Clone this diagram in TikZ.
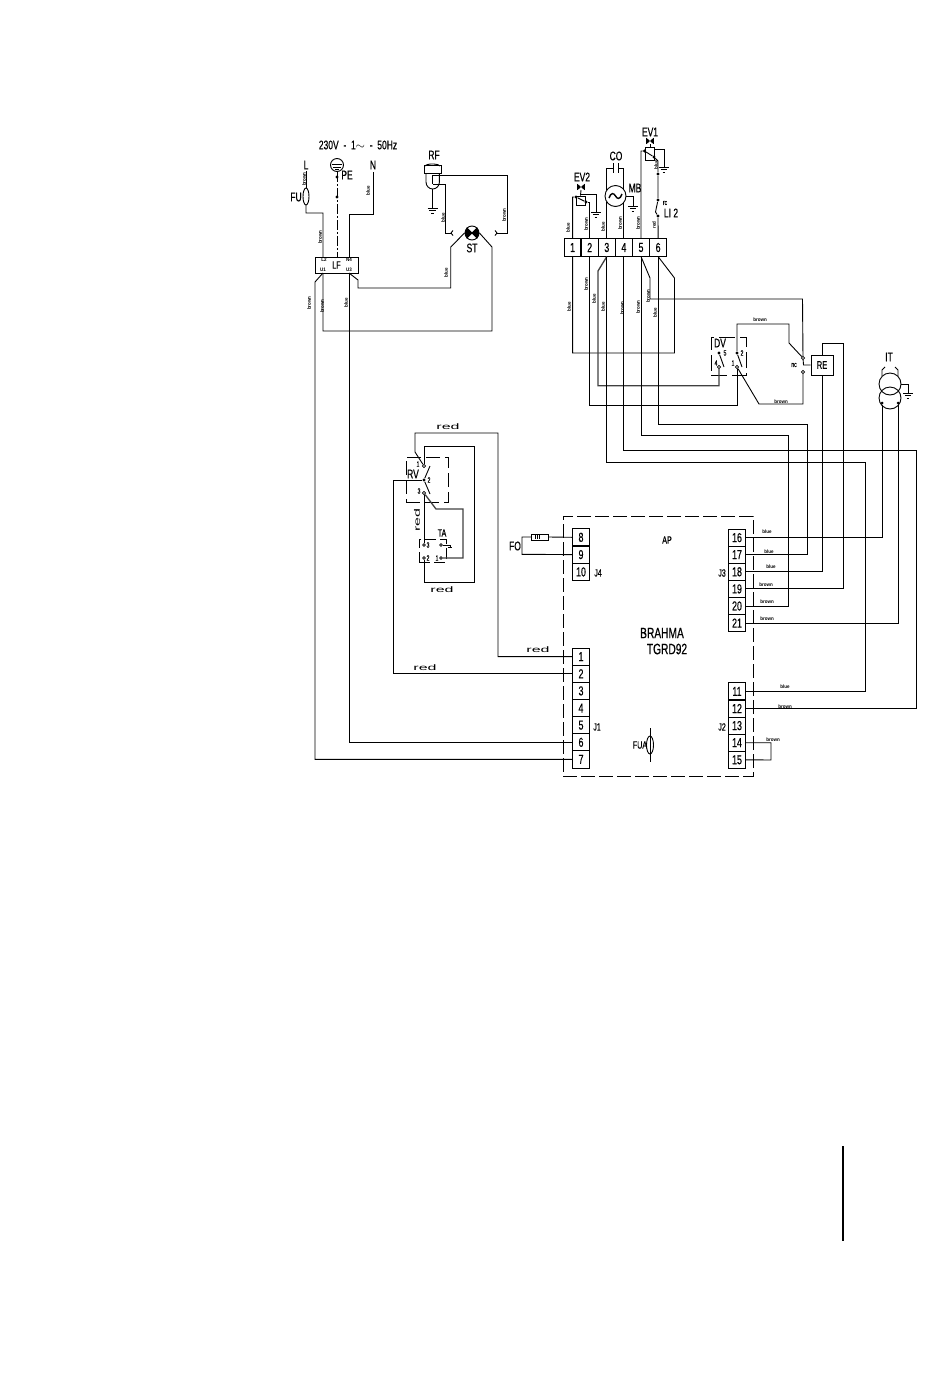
\documentclass[tikz,border=0pt]{standalone}
\usepackage{fontspec}
\setmainfont[FakeStretch=0.68,FakeBold=0.5]{Liberation Sans}
\newfontfamily\tagfont[FakeStretch=0.9]{Liberation Sans Bold}
\newfontfamily\widefont[FakeStretch=2.0]{Liberation Sans}
\usepackage{tikz}
\tikzset{
 wire/.style={line width=0.9pt},
 wireb/.style={line width=1.3pt,black!75},
 term/.style={draw,line width=0.9pt,minimum width=16.5,minimum height=17.2,inner sep=0,font=\fontsize{13}{13}\selectfont},
 tag/.style={inner sep=0,font=\tagfont\fontsize{5}{5}\selectfont},
 vtag/.style={tag,rotate=90},
 redtag/.style={inner sep=0,font=\widefont\fontsize{8}{8}\selectfont},
 lab/.style={inner sep=0,font=\fontsize{12.5}{13}\selectfont},
 sublab/.style={lab,font=\fontsize{10.5}{11}\selectfont},
 pin/.style={inner sep=0,font=\fontsize{7.5}{8}\selectfont},
 lfpin/.style={inner sep=0,font=\tagfont\fontsize{5}{5}\selectfont},
 dot/.style={circle,fill,inner sep=0,minimum size=3.4},
 odot/.style={circle,draw,fill=white,line width=0.7pt,inner sep=0,minimum size=3.2},
 frame/.style={draw,line width=0.9pt,dash pattern=on 14pt off 4pt},
 gnd/.pic={\draw[wire] (-5,0)--(5,0) (-3.2,2.6)--(3.2,2.6) (-1.4,5.2)--(1.4,5.2);},
 valve/.pic={\fill (-3.4,-3)--(3.4,3)--(3.4,-3)--(-3.4,3)--cycle;\draw[wire] (-3.4,-3.4)--(-3.4,3.4) (3.4,-3.4)--(3.4,3.4);},
}
\begin{document}
\begin{tikzpicture}[x=1pt,y=-1pt]
\useasboundingbox (0,0) rectangle (950,1398);

% Controller
\node[frame,minimum width=190,minimum height=260,inner sep=0] (ap) at (658,646) {};
\foreach \n in {1,...,7} \node[term] (a\n) at (581,{639.5+17.13*\n}) {\n};
\foreach \n [count=\i] in {8,9,10} \node[term] (c\n) at (581,{520+17.3*\i}) {\n};
\foreach \n [count=\i] in {16,...,21} \node[term] (b\i) at (737,{520.5+17.1*\i}) {\n};
\foreach \n [count=\i] in {11,...,15} \node[term] (k\i) at (737,{674.3+17.1*\i}) {\n};
\node[sublab] (aptag) at (667,540) {AP};
\node[lab,font=\fontsize{15}{15}\selectfont] (brtag) at (662,633) {BRAHMA};
\node[lab,font=\fontsize{15}{15}\selectfont] (tgtag) at (667,649) {TGRD92};
\node[sublab] (j4tag) at (598,573) {J4};
\node[sublab] (j1tag) at (597,727) {J1};
\node[sublab] (j3tag) at (722,573) {J3};
\node[sublab] (j2tag) at (722,727) {J2};
\node[lab] (fotag) at (515,546) {FO};
\node[sublab] (fuatag) at (640,745) {FUA};
\node[draw,wire,minimum width=17,minimum height=6,inner sep=0] (fo) at (540,537) {};
\draw[wire] (535,535) -- (535,539) (537,535) -- (537,539) (539,535) -- (539,539);
\draw[wire] (c8.west) -- (fo.east) (fo.west) -| (522,554.3) -- (c9.west);
\draw[wire] (650,728) -- (650,762);
\draw[wire] (650,736) arc[start angle=-90,end angle=90,x radius=3.5,y radius=9];
\draw[wire] (650,736) arc[start angle=270,end angle=90,x radius=3.5,y radius=9];
\draw[wire] (k4.east) -| (771,760) -- (k5.east);

% Supply
\node[lab] (title) at (358,145) {230V\ \ -\ \ 1$\sim$\ \ -\ \ 50Hz};
\node[lab] (ltag) at (306,165) {L};
\node[lab] (ntag) at (373,165) {N};
\node[lab] (petag) at (347,175) {PE};
\node[lab] (futag) at (296,197) {FU};
\node[draw,circle,wire,minimum size=13,inner sep=0] (pe) at (337,165) {};
\draw[wire] (332,164) -- (342,164) (333,167) -- (341,167) (335,169) -- (339,169);
\node[dot] (peone) at (337,177) {};
\node[dot] (petwo) at (337,197) {};
\node[draw,wire,minimum width=43,minimum height=16,inner sep=0] (lf) at (336.5,265) {};
\node[sublab] at (lf) {LF};
\node[lfpin] (lfa) at (324,260) {L2};
\node[lfpin] (lfb) at (349,260) {N4};
\node[lfpin] (lfc) at (323,270) {U1};
\node[lfpin] (lfd) at (349,270) {U3};
\coordinate (lfl) at (323,273);
\coordinate (lfn) at (349,273);
\draw[wire,dash pattern=on 10pt off 2pt on 2pt off 2pt] (pe) -- (lf.north-|pe);
\draw[wire] (306,171) -- (306,188);
\draw[wire] (306,188) arc[start angle=-90,end angle=90,x radius=3,y radius=8.5];
\draw[wire] (306,188) arc[start angle=270,end angle=90,x radius=3,y radius=8.5] -- (306,213) -| (323,257);
\draw[wire] (373,172) |- (349,214) -- (349,257);
\draw[wire] (lfl) -- (315,282) |- (a7.west);
\draw[wire] (lfn) |- (a6.west);

% Thermostat
\node[draw,wire,circle,minimum size=14,inner sep=0] (st) at (472,233) {};
\fill (st.center) -- +(225:7) arc[start angle=225,end angle=135,radius=7] -- cycle;
\fill (st.center) -- +(45:7) arc[start angle=45,end angle=-45,radius=7] -- cycle;
\draw[wire] (st.north west)--(st.south east) (st.north east)--(st.south west);
\node[lab] (sttag) at (472,248) {ST};
\draw[wire] (lfn) -- (358,280) |- (450.7,288) -- (450.7,247) -- (st.west);
\draw[wire] (lfl) |- (492,331) -- (492,247) -- (st.east);
\node[lab] (rftag) at (434,155) {RF};
\node[draw,wire,minimum width=17,minimum height=7.5,inner sep=0] (rf) at (432.5,169.5) {};
\draw[wire] (425,166) arc[start angle=190,end angle=350,x radius=7.6,y radius=2.5];
\draw[wire] (426,173) -- (426,182) arc[start angle=180,end angle=0,x radius=6.7,y radius=7] -- (439.4,173);
\draw[line width=1.5pt] (432.5,175) -- (432.5,184);
\coordinate (rfg) at (432.5,208);
\draw[wire] (432.5,189) -- (rfg) pic {gnd};
\draw[wire] (432.5,184) -| (445.5,233) -- (451,233);
\draw[wire] (432.5,175.5) -| (507,233) -- (497,233);
\draw[wire] (453,230.5) -- (451,233) -- (453,235.5) (495,230.5) -- (497,233) -- (495,235.5);

% Changeover and relay
\node[draw,wire,dash pattern=on 16pt off 5pt,minimum width=35,minimum height=38,inner sep=0] (dv) at (728.5,356) {};
\node[lab] (dvtag) at (720,343) {DV};
\node[dot] (dvfive) at (719,353) {};
\node[odot] (dvfour) at (719,367) {};
\node[dot] (dvtwo) at (737,353) {};
\node[odot] (dvone) at (737,367) {};
\node[pin] at (725,353) {5};
\node[pin] at (742,353) {2};
\node[pin] at (716,363) {4};
\node[pin] at (733,363) {1};
\draw[wire] (dvfive) -- (724,367);
\draw[wire] (dvtwo) -- (742,367);
\node[odot] (rea) at (803,358) {};
\node[odot] (reb) at (803,372) {};
\node[draw,wire,minimum width=22,minimum height=20,inner sep=0,font=\fontsize{11}{11}\selectfont] (re) at (822,365) {RE};
\node[pin] (nctag) at (794,365) {nc};
\draw[wire] (re.west) -- (803.5,365) -- (rea);
\draw[wire] (dvtwo) |- (789,324) -- (789,343) -- (rea);
\draw[wire] (dvone) -- (759,404) -| (reb);
\draw[wire] (re.south) |- (b3.east);
\draw[wire] (re.north) |- (843,343) |- (b4.east);

% Terminal block
\foreach \n in {1,...,6} \node[term] (t\n) at ({555.5+17.1*\n},247.5) {\n};
\node[draw,wire,circle,minimum size=21,inner sep=0] (mb) at (615.5,196) {};
\draw[line width=1.4pt] (609,198) .. controls (611,192) and (614,193) .. (615.5,196) .. controls (617,199) and (620,200) .. (622,194);
\node[lab] (cotag) at (616,156) {CO};
\node[lab] (mbtag) at (635,188) {MB};
\node[lab] (ev2tag) at (582,177) {EV2};
\node[lab] (ev1tag) at (650,132) {EV1};
\node[lab] (litag) at (671,213) {LI 2};
\node[pin] (rctag) at (665,203) {rc};
\draw[wire] (t3.north) -- (t3.north |- 0,202) (t3.north |- 0,190) |- (613.5,168);
\draw[wire] (613.5,163) -- (613.5,173) (618,163) -- (618,173);
\draw[wire] (618,168) -| (t4.north |- 0,190) (t4.north |- 0,202) -- (t4.north);
\coordinate (mbg) at (633,206);
\draw[wire] (mb.east) -| (mbg) pic {gnd};

\node[dot] (eva) at (576,197) {};
\node[dot] (evb) at (586,202) {};
\node[draw,wire,minimum width=9,minimum height=9,inner sep=0] (evtwo) at (580.5,200.5) {};
\draw[wire] (t1.north) |- (eva) -- (evb);
\draw[wire] (t2.north) |- (evb);
\pic at (581,187) {valve};
\draw[wire] (581,190) -- (evtwo.north);
\coordinate (evg) at (596,212);
\draw[wire] (581,194) -| (evg) pic {gnd};

\node[dot] (evc) at (644.5,151) {};
\node[dot] (evd) at (654,157) {};
\node[draw,wire,minimum width=8.5,minimum height=13,inner sep=0] (evone) at (650,153.5) {};
\draw[wire] (t5.north) |- (evc) -- (evd);
\pic at (650,141) {valve};
\draw[wire] (650,144) -- (evone.north);
\coordinate (evh) at (664,167);
\draw[wire] (654,149) -| (evh) pic {gnd};
\node[dot] (lia) at (658,174) {};
\node[dot] (lib) at (658,200) {};
\node[dot] (lic) at (658,216) {};
\draw[wire] (evd) -- (658,161) -- (lia) -- (lib);
\draw[wire] (lib) -- (655.5,212) -- (lic) -- (t6.north);

% Transformer
\node[lab] (ittag) at (889,357) {IT};
\node[draw,wire,circle,minimum size=22,inner sep=0] (ita) at (890,384) {};
\node[draw,wire,circle,minimum size=22,inner sep=0] (itb) at (890,398) {};
\node[dot,minimum size=3] (itc) at (882,403) {};
\node[dot,minimum size=3] (itd) at (898,403) {};
\draw[wire] (882,376) -- (882,370) -- (885,367) (898,376) -- (898,370) -- (895,367);
\coordinate (itg) at (908,393);
\draw[wire] (ita.east) -| (itg) pic {gnd};
\draw[wire] (itc) |- (b1.east);
\draw[wire] (itd) |- (b6.east);

% Wires from the block
\draw[wire] (t1.south) |- (674.5,353) -- (674.5,278) -- (t6.south);
\draw[wire] (t2.south) |- (737,405) -- (dvone);
\draw[wireb] (t3.south) -- (598,271) |- (719,385.7) -- (dvfour);
\draw[wire] (t3.south) |- (865,462) |- (k1.east);
\draw[wire] (t4.south) |- (916,450) |- (k2.east);
\draw[wire] (t5.south) |- (788,435) |- (b5.east);
\draw[wire] (t6.south) |- (807,424) |- (b2.east);
\draw[wire] (t5.south) -- (650,278) |- (802.5,299) -- (rea);

% Range switch
\node[draw,wire,dash pattern=on 14pt off 5pt,minimum width=42,minimum height=45,inner sep=0] (rv) at (427,479.5) {};
\node[lab] (rvtag) at (413,474) {RV};
\node[odot] (rvone) at (424,466) {};
\node[dot] (rvtwo) at (424,480) {};
\node[odot] (rvthree) at (424,493) {};
\node[pin] at (418,464) {1};
\node[pin] at (429,480) {2};
\node[pin] at (419,491) {3};
\draw[wire] (rvtwo) -- (430,466) (rvtwo) -- (430,494);
\node[draw,wire,dash pattern=on 11pt off 4pt,minimum width=27,minimum height=23,inner sep=0] (ta) at (432.5,550.5) {};
\node[sublab] (tatag) at (442,533) {TA};
\node[odot,minimum size=2.6] (taa) at (424,545) {};
\node[odot,minimum size=2.6] (tab) at (424,558) {};
\node[odot,minimum size=2.6] (tac) at (441,545) {};
\node[odot,minimum size=2.6] (tad) at (441,558) {};
\node[pin] at (428,545) {3};
\node[pin] at (428,558) {2};
\node[pin] at (437,558) {1};
\draw[wire] (tac) -- (450,545) -- (450,548);
\draw[wire] (448,547) -- (452,547);
\draw[wire] (rvthree) -- (taa);
\draw[wireb] (rvthree) -- (436,509) -| (463,558) -- (tad);
\draw[wire] (rvone) |- (474,446) |- (424,582) -- (tab);
\draw[wire] (a1.west) -| (498,433) -| (415,452) -- (rvone);
\draw[wire] (a2.west) -| (393,480) -- (rvtwo);

% Wire tags
\foreach \x/\y/\t in {304/179/brown,368/191/blue,320/237/brown,443/218/blue,504/215/brown,446/273/blue,309/303/brown,322/306/brown,346/303/blue,568/228/blue,586/224/brown,603/227/blue,620/223/brown,638/223/brown,654/225/red,656/165/blue,569/307/blue,586/284/brown,594/299/blue,603/307/blue,622/308/brown,638/307/brown,648/296/brown,655/313/blue}
 \node[vtag] at (\x,\y) {\t};
\foreach \x/\y/\t in {767/532/blue,769/552/blue,771/567/blue,766/585/brown,767/602/brown,767/619/brown,785/687/blue,785/707/brown,773/740/brown,760/320/brown,781/402/brown}
 \node[tag] at (\x,\y) {\t};
\node[redtag] (reda) at (448,427) {red};
\node[redtag] (redb) at (442,590) {red};
\node[redtag] (redc) at (538,650) {red};
\node[redtag] (redd) at (425,668) {red};
\node[redtag,rotate=90] (rede) at (417,520) {red};

\coordinate (bara) at (843,1146);
\coordinate (barb) at (843,1241);
\draw[line width=2pt] (bara) -- (barb);
\end{tikzpicture}
\end{document}
